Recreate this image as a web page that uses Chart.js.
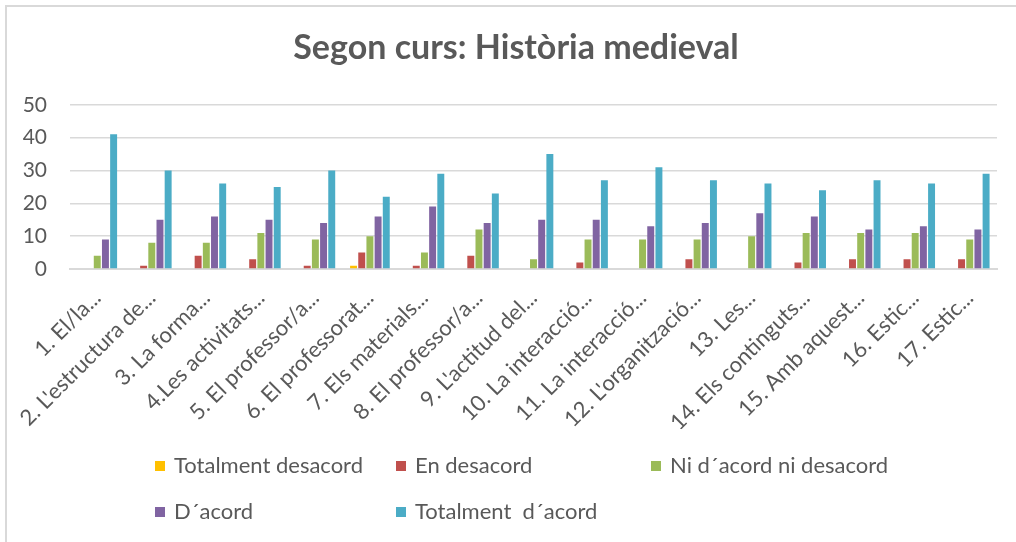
<!DOCTYPE html>
<html>
<head>
<meta charset="utf-8">
<script src="https://cdn.jsdelivr.net/npm/chart.js@4/dist/chart.umd.min.js"></script>
<style>
  html, body { margin: 0; padding: 0; background: #fff; }
  body { width: 1016px; height: 542px; position: relative; overflow: hidden; }
  #frame { position: absolute; left: 5px; top: 5px; width: 1030px; height: 560px; border: 2px solid #d9d9d9; box-sizing: border-box; }
  #chart { position: absolute; left: 0; top: 0; }
  #legend { position: absolute; left: 0; top: 0; width: 1016px; height: 542px; pointer-events: none;
            font-family: Lato, "Liberation Sans", sans-serif; font-size: 22px; color: #595959; }
  .item { position: absolute; white-space: pre; line-height: 26px; }
  .item span.box { display: inline-block; width: 10px; height: 10px; margin-right: 9px; vertical-align: 2px; }
</style>
</head>
<body>
<div id="frame"></div>
<canvas id="chart" width="1016" height="542"></canvas>
<div id="legend"></div>
<script>
const categories = [
  '1. El/la...', '2. L\'estructura de...', '3. La forma...', '4.Les activitats...',
  '5. El professor/a...', '6. El professorat...', '7. Els materials...', '8. El professor/a...',
  '9. L\'actitud del...', '10. La interacció...', '11. La interacció...', '12. L\'organització...',
  '13. Les...', '14. Els continguts...', '15. Amb aquest...', '16. Estic...', '17. Estic...'
];
const seriesNames = ['Totalment desacord', 'En desacord', 'Ni d´acord ni desacord', 'D´acord', 'Totalment  d´acord'];
const seriesColors = ['#FFC000', '#C0504D', '#9BBB59', '#8064A2', '#4BACC6'];

const totalmentDesacord = [0, 0, 0, 0, 0, 1, 0, 0, 0, 0, 0, 0, 0, 0, 0, 0, 0];
const enDesacord        = [0, 1, 4, 3, 1, 5, 1, 4, 0, 2, 0, 3, 0, 2, 3, 3, 3];
const niAcordNiDesacord = [4, 8, 8, 11, 9, 10, 5, 12, 3, 9, 9, 9, 10, 11, 11, 11, 9];
const dAcord            = [9, 15, 16, 15, 14, 16, 19, 14, 15, 15, 13, 14, 17, 16, 12, 13, 12];
const totalmentAcord    = [41, 30, 26, 25, 30, 22, 29, 23, 35, 27, 31, 27, 26, 24, 27, 26, 29];

const yTicks = [0, 10, 20, 30, 40, 50];

const seriesValues = [totalmentDesacord, enDesacord, niAcordNiDesacord, dAcord, totalmentAcord];
const textColor = '#595959';
const gridColor = '#d9d9d9';
const fontFamily = 'Lato, "Liberation Sans", sans-serif';

const datasets = seriesValues.map((vals, i) => ({
  label: seriesNames[i],
  data: vals,
  backgroundColor: seriesColors[i],
  categoryPercentage: 0.75,
  barPercentage: 0.85
}));

// the original title sits a little right of the canvas centre
const shiftTitle = {
  id: 'shiftTitle',
  afterLayout(chart) {
    if (chart.titleBlock) chart.titleBlock.left = 35;
  }
};

new Chart(document.getElementById('chart'), {
  type: 'bar',
  data: { labels: categories, datasets: datasets },
  plugins: [shiftTitle],
  options: {
    responsive: false,
    animation: false,
    layout: { padding: { left: 0, right: 19, top: 0, bottom: 113 } },
    plugins: {
      legend: { display: false },
      tooltip: { enabled: false },
      title: {
        display: true,
        text: 'Segon curs: Història medieval',
        color: textColor,
        font: { family: fontFamily, size: 34, weight: 'bold' },
        padding: { top: 28, bottom: 36 }
      }
    },
    scales: {
      x: {
        grid: { display: false, drawTicks: false },
        border: { color: gridColor, width: 2 },
        ticks: {
          color: textColor,
          autoSkip: false,
          minRotation: 45,
          maxRotation: 45,
          padding: 16,
          font: { family: fontFamily, size: 22 }
        },
        afterFit: (scale) => { scale.height = 160; }
      },
      y: {
        min: 0,
        max: 50,
        afterBuildTicks: (scale) => { scale.ticks = yTicks.map(v => ({ value: v })); },
        grid: { color: gridColor, lineWidth: 1.5, drawTicks: false },
        border: { display: false },
        ticks: {
          color: textColor,
          padding: 23,
          font: { family: fontFamily, size: 21 }
        },
        afterFit: (scale) => { scale.width = 70; }
      }
    }
  }
});

// legend laid out in a grid like the original
const legendPos = [[155, 452], [396, 452], [651, 452], [155, 498], [396, 498]];
const legend = document.getElementById('legend');
seriesNames.forEach((name, i) => {
  const el = document.createElement('div');
  el.className = 'item';
  el.style.left = legendPos[i][0] + 'px';
  el.style.top = legendPos[i][1] + 'px';
  const box = document.createElement('span');
  box.className = 'box';
  box.style.background = seriesColors[i];
  el.appendChild(box);
  el.appendChild(document.createTextNode(name));
  legend.appendChild(el);
});
</script>
</body>
</html>
